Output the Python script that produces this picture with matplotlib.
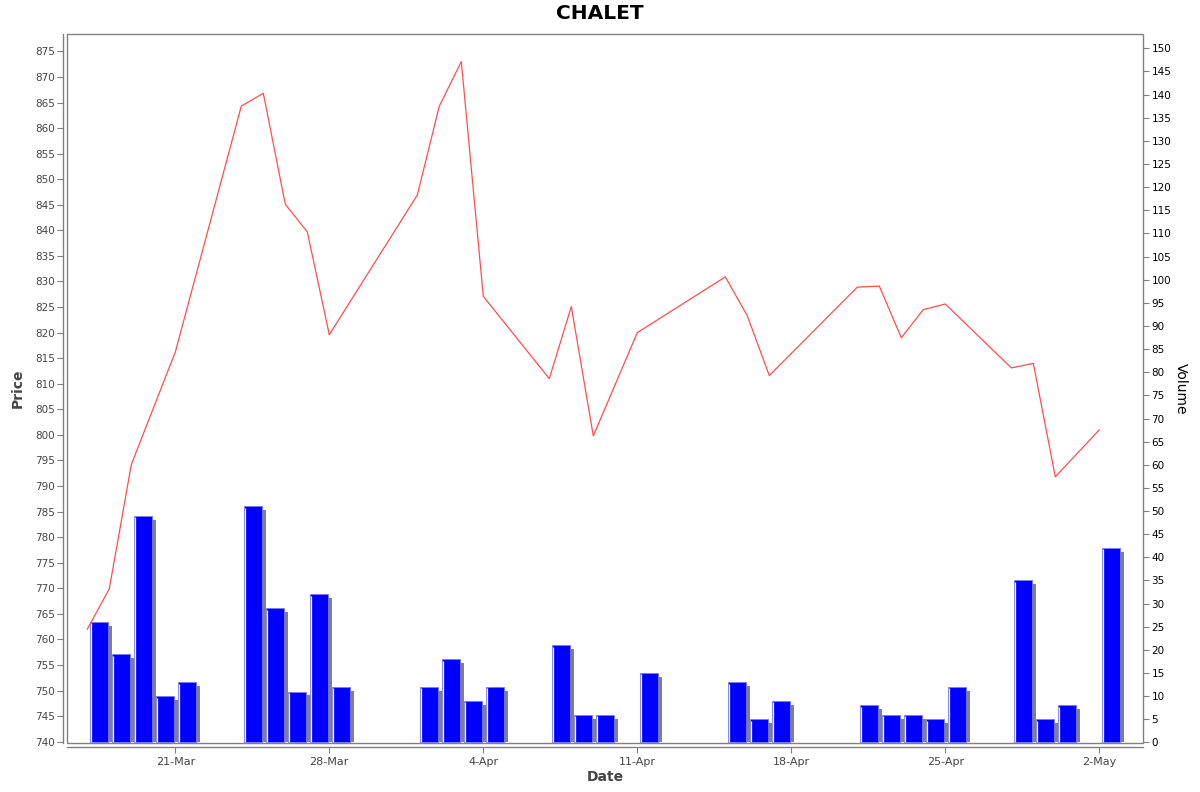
import datetime as dt
import matplotlib
matplotlib.use("Agg")
import matplotlib.pyplot as plt
import matplotlib.dates as mdates
from matplotlib.ticker import MultipleLocator, FuncFormatter
from matplotlib.patches import Rectangle

# trading days (2025)
dates = ["2025-03-17", "2025-03-18", "2025-03-19", "2025-03-20", "2025-03-21",
         "2025-03-24", "2025-03-25", "2025-03-26", "2025-03-27", "2025-03-28",
         "2025-04-01", "2025-04-02", "2025-04-03", "2025-04-04",
         "2025-04-07", "2025-04-08", "2025-04-09", "2025-04-11",
         "2025-04-15", "2025-04-16", "2025-04-17",
         "2025-04-21", "2025-04-22", "2025-04-23", "2025-04-24", "2025-04-25",
         "2025-04-28", "2025-04-29", "2025-04-30", "2025-05-02"]
price = [762.0, 769.9, 794.2, 805.2, 816.2,
         864.3, 866.8, 845.1, 839.7, 819.6,
         846.9, 864.3, 873.0, 827.1,
         811.0, 825.1, 799.8, 820.0,
         830.9, 823.3, 811.6,
         828.9, 829.1, 819.0, 824.5, 825.6,
         813.1, 814.0, 791.8, 801.0]
volume = [26, 19, 49, 10, 13,
          51, 29, 11, 32, 12,
          12, 18, 9, 12,
          21, 6, 6, 15,
          13, 5, 9,
          8, 6, 6, 5, 12,
          35, 5, 8, 42]
tick_days = [(3, 21), (3, 28), (4, 4), (4, 11), (4, 18), (4, 25), (5, 2)]

x = mdates.date2num([dt.datetime.strptime(d, "%Y-%m-%d") for d in dates])

fig = plt.figure(figsize=(12, 7.92), dpi=100)
ax = fig.add_axes([67 / 1200, 49 / 792, 1076 / 1200, 709 / 792])
ax2 = ax.twinx()

# volume bars (with shadow) on right axis
bar_off = 0.12
bar_w = 0.8
px = 1 / 22.0  # one pixel in days
ax2.bar(x + bar_off + 4 * px, [v - 0.86 for v in volume], width=bar_w, align="edge",
        color="#808080", zorder=1)
ax2.bar(x + bar_off, volume, width=bar_w, align="edge", color="#0000ff",
        edgecolor="#7a7aff", linewidth=0.6, zorder=2)
ax2.vlines(x + bar_off + 1.5 * px, 0, [v - 0.3 for v in volume], color="white",
           linewidth=0.9, zorder=3)
ax2.set_ylim(-0.13, 153.1)
ax2.yaxis.set_major_locator(MultipleLocator(5))
ax2.tick_params(axis="y", direction="out", length=4, width=0.8, colors="#808080",
                labelcolor="black", labelsize=7.5, pad=2)
ax2.set_ylabel("Volume", rotation=-90, fontsize=10, labelpad=12)
for s in ax2.spines.values():
    s.set_visible(False)

# price line on left axis
ax.set_zorder(ax2.get_zorder() + 1)
ax.patch.set_visible(False)
ax.plot(x, price, color="#ff4d4d", linewidth=0.9)
ax.set_ylim(739.75, 878.4)
ax.yaxis.set_major_locator(MultipleLocator(5))

d0 = mdates.date2num(dt.datetime(2025, 3, 21))
d1 = mdates.date2num(dt.datetime(2025, 5, 2))
ax.set_xlim(d0 - 4.923, d1 + 1.986)


def fmt_date(v, pos=None):
    d = mdates.num2date(v)
    return f"{d.day}-{d.strftime('%b')}"


ax.set_xticks([mdates.date2num(dt.datetime(2025, m, d)) for m, d in tick_days])
ax.xaxis.set_major_formatter(FuncFormatter(fmt_date))

for side in ["top", "right"]:
    ax.spines[side].set_visible(False)
for side in ["left", "bottom"]:
    ax.spines[side].set_position(("outward", 2.9))
    ax.spines[side].set_color("#808080")
    ax.spines[side].set_linewidth(1.0)
ax.tick_params(axis="both", direction="out", length=4, width=0.8, colors="#808080",
               labelcolor="#444444", labelsize=7.5)
ax.tick_params(axis="y", pad=2)
ax.tick_params(axis="x", pad=3, labelsize=8)

# plot border
ax.add_patch(Rectangle((0, 0), 1, 1, transform=ax.transAxes, fill=False,
                       edgecolor="#808080", linewidth=1.0, clip_on=False, zorder=5))

ax.set_ylabel("Price", fontsize=10, fontweight="bold", color="#444444", labelpad=7)
ax.set_xlabel("Date", fontsize=10, fontweight="bold", color="#444444", labelpad=2)
fig.suptitle("CHALET", fontsize=14.5, fontweight="bold", y=0.995)

fig.savefig("out.png", dpi=100)
